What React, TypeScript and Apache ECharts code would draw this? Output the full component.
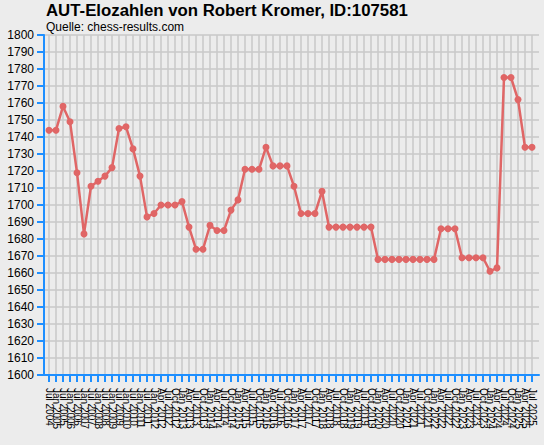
import { useRef, useEffect } from 'react';
import * as echarts from 'echarts';

const months = [
  'Jul 2004', 'Jan 2005', 'Jul 2005', 'Jan 2006', 'Jul 2006', 'Jan 2007', 'Jul 2007', 'Jan 2008',
  'Jul 2008', 'Jan 2009', 'Jul 2009', 'Jan 2010', 'Jul 2010', 'Jan 2011', 'Jul 2011', 'Jan 2012',
  'Apr 2012', 'Jul 2012', 'Oct 2012',
  'Jan 2013', 'Apr 2013', 'Jul 2013', 'Oct 2013',
  'Jan 2014', 'Apr 2014', 'Jul 2014', 'Oct 2014',
  'Jan 2015', 'Apr 2015', 'Jul 2015', 'Oct 2015',
  'Jan 2016', 'Apr 2016', 'Jul 2016', 'Oct 2016',
  'Jan 2017', 'Apr 2017', 'Jul 2017', 'Oct 2017',
  'Jan 2018', 'Apr 2018', 'Jul 2018', 'Oct 2018',
  'Jan 2019', 'Apr 2019', 'Jul 2019', 'Oct 2019',
  'Jan 2020', 'Apr 2020', 'Jul 2020', 'Oct 2020',
  'Jan 2021', 'Apr 2021', 'Jul 2021', 'Oct 2021',
  'Jan 2022', 'Apr 2022', 'Jul 2022', 'Oct 2022',
  'Jan 2023', 'Apr 2023', 'Jul 2023', 'Oct 2023',
  'Jan 2024', 'Apr 2024', 'Jul 2024', 'Oct 2024',
  'Jan 2025', 'Apr 2025', 'Jul 2025',
];

const elo = [
  1744, 1744, 1758, 1749, 1719, 1683, 1711, 1714, 1717, 1722,
  1745, 1746, 1733, 1717, 1693, 1695, 1700, 1700, 1700, 1702,
  1687, 1674, 1674, 1688, 1685, 1685, 1697, 1703, 1721, 1721,
  1721, 1734, 1723, 1723, 1723, 1711, 1695, 1695, 1695, 1708,
  1687, 1687, 1687, 1687, 1687, 1687, 1687, 1668, 1668, 1668,
  1668, 1668, 1668, 1668, 1668, 1668, 1686, 1686, 1686, 1669,
  1669, 1669, 1669, 1661, 1663, 1775, 1775, 1762, 1734, 1734,
];

const yMin = 1600;
const yMax = 1800;
const yStep = 10;

const titleText = 'AUT-Elozahlen von Robert Kromer, ID:107581';
const sourceText = 'Quelle: chess-results.com';

const BLUE = '#1e8fff';
const GRIDLINE = '#c8c8c8';
const FONT = '"Liberation Sans", Arial, sans-serif';

export default function App() {
  const ref = useRef<HTMLDivElement>(null);

  useEffect(() => {
    if (!ref.current) return;
    const chart = echarts.init(ref.current, undefined, { renderer: 'svg', width: 544, height: 445 });

    chart.setOption({
      animation: false,
      backgroundColor: '#ececec',
      textStyle: { fontFamily: FONT },
      title: [
        {
          text: titleText, left: 46, top: 2, padding: 0,
          textStyle: { fontSize: 16.8, lineHeight: 17, fontWeight: 'bold', color: '#000', fontFamily: FONT },
        },
        {
          text: sourceText, left: 46, top: 21, padding: 0,
          textStyle: { fontSize: 12, lineHeight: 12, fontWeight: 'normal', color: '#000', fontFamily: FONT },
        },
      ],
      grid: [
        // data grid: points sit on the vertical grid lines
        { left: 49, right: 12, top: 35, bottom: 70 },
        // frame grid: y axis, horizontal lines and the bottom axis line
        { left: 44, right: 5, top: 35, bottom: 70 },
      ],
      xAxis: [
        {
          type: 'category', gridIndex: 0, data: months, boundaryGap: false,
          axisLine: { show: false },
          axisTick: { show: true, interval: 0, length: 7, lineStyle: { color: BLUE, width: 2 } },
          axisLabel: { interval: 0, rotate: -90, fontSize: 10, color: '#000', margin: 13, fontFamily: FONT },
          splitLine: { show: true, interval: 0, lineStyle: { color: GRIDLINE, width: 1.5 } },
          z: 1,
        },
        {
          type: 'value', gridIndex: 1, min: 0, max: 1,
          axisLine: { show: true, lineStyle: { color: BLUE, width: 2 } },
          axisTick: { show: false }, axisLabel: { show: false }, splitLine: { show: false },
          z: 3,
        },
      ],
      yAxis: [
        { type: 'value', gridIndex: 0, min: yMin, max: yMax, show: false },
        {
          type: 'value', gridIndex: 1, min: yMin, max: yMax, interval: yStep,
          axisLine: { show: true, lineStyle: { color: BLUE, width: 2 } },
          axisTick: { show: true, length: 7, lineStyle: { color: BLUE, width: 2 } },
          axisLabel: { fontSize: 12, color: '#000', margin: 10, fontFamily: FONT, formatter: (v: number) => String(v) },
          splitLine: { show: true, lineStyle: { color: GRIDLINE, width: 1.5 } },
          z: 3,
        },
      ],
      series: [
        {
          type: 'line', xAxisIndex: 0, yAxisIndex: 0, data: elo,
          symbol: 'circle', symbolSize: 7,
          lineStyle: { color: '#e06666', width: 2.5 },
          itemStyle: { color: '#e06666' },
          z: 5,
        },
      ],
    });

    return () => chart.dispose();
  }, []);

  return <div ref={ref} style={{ position: 'fixed', left: 0, top: 0, width: 544, height: 445 }} />;
}
